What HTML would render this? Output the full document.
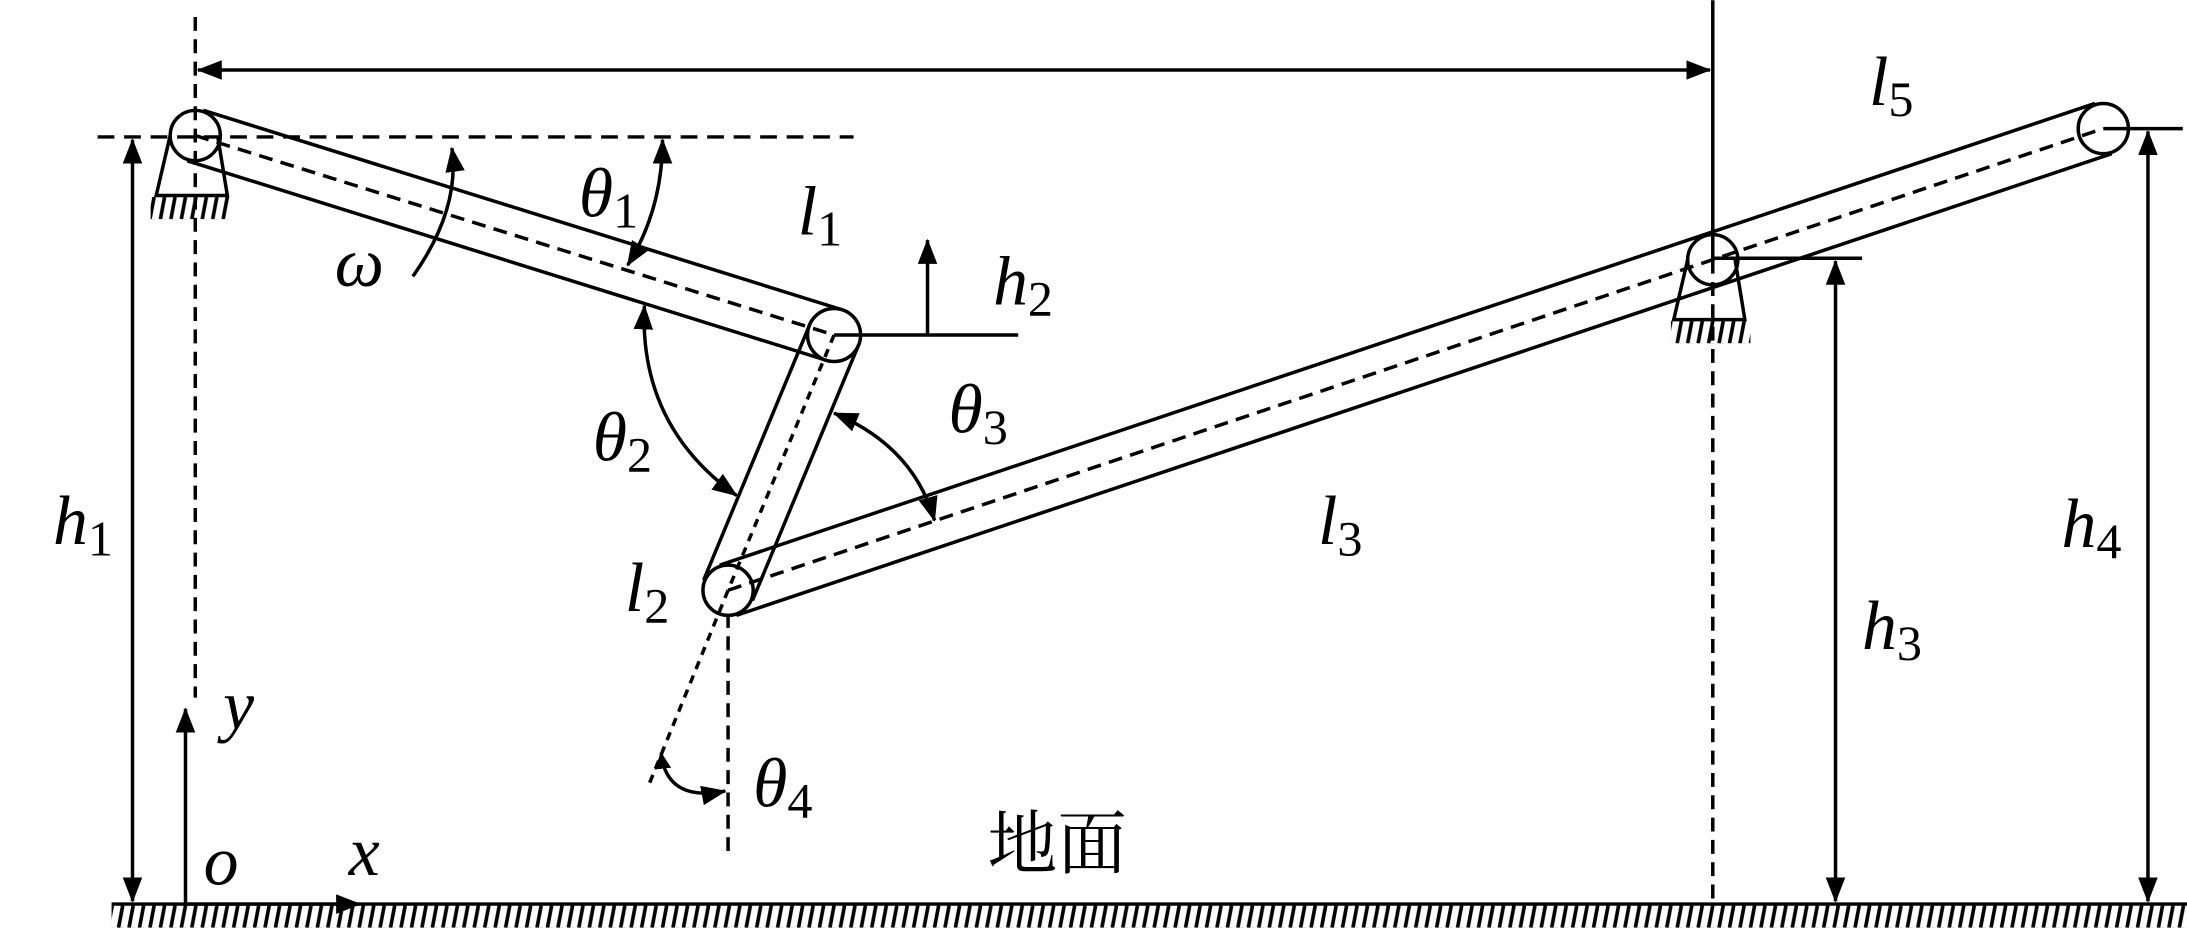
<!DOCTYPE html>
<html><head><meta charset="utf-8"><style>
html,body{margin:0;padding:0;background:#fff;}
svg{display:block;}
text{font-family:"Liberation Serif","Noto Serif CJK SC",serif;font-style:italic;fill:#000;}
.s{font-style:normal;}
</style></head><body>
<svg width="2187" height="935" viewBox="0 0 1568 670" xmlns="http://www.w3.org/2000/svg">
<defs>
<pattern id="h" x="0" y="649" width="7.5" height="16" patternUnits="userSpaceOnUse">
<line x1="5.5" y1="0" x2="2.5" y2="16" stroke="#000" stroke-width="2.6"/>
</pattern>
<pattern id="h1" x="0" y="141" width="7.5" height="16" patternUnits="userSpaceOnUse">
<line x1="5.5" y1="0" x2="2.5" y2="16" stroke="#000" stroke-width="2.6"/>
</pattern>
<pattern id="h2" x="0" y="230" width="7.5" height="16" patternUnits="userSpaceOnUse">
<line x1="5.5" y1="0" x2="2.5" y2="16" stroke="#000" stroke-width="2.6"/>
</pattern>
<marker id="a" markerWidth="12" markerHeight="12" refX="11" refY="6" orient="auto-start-reverse" markerUnits="userSpaceOnUse" viewBox="0 0 12 12">
<path d="M0,0 L12,6 L0,12 Z" fill="#000"/>
</marker>
<marker id="A" markerWidth="18" markerHeight="14" refX="17" refY="7" orient="auto-start-reverse" markerUnits="userSpaceOnUse" viewBox="0 0 18 14">
<path d="M0,0 L18,7 L0,14 Z" fill="#000"/>
</marker>
</defs>
<g stroke="#000" stroke-width="2.5" fill="none">
<line x1="80" y1="648" x2="1568" y2="648"/>
<rect x="80" y="649" width="1488" height="16" fill="url(#h)" stroke="none"/>
<line x1="140" y1="12" x2="140" y2="500" stroke-dasharray="10,6"/>
<line x1="70" y1="98" x2="612" y2="98" stroke-dasharray="12,7"/>
<line x1="1228" y1="186" x2="1228" y2="648" stroke-dasharray="10,6"/>
<line x1="1228" y1="0" x2="1228" y2="186"/>
<line x1="522" y1="440" x2="522" y2="612" stroke-dasharray="10,6"/>
<line x1="522" y1="423" x2="465" y2="563" stroke-dasharray="6,5"/>
<line x1="142" y1="50" x2="1226" y2="50" marker-start="url(#A)" marker-end="url(#A)"/>
<line x1="134.3" y1="115.1" x2="592.3" y2="258.1"/>
<line x1="145.7" y1="78.9" x2="603.7" y2="221.9"/>
<line x1="140" y1="97" x2="598" y2="240" stroke-dasharray="10,6"/>
<line x1="615.5" y1="247.3" x2="539.5" y2="430.3"/>
<line x1="580.5" y1="232.7" x2="504.5" y2="415.7"/>
<line x1="598" y1="240" x2="522" y2="423" stroke-dasharray="6,5"/>
<line x1="528" y1="441" x2="1514" y2="110"/>
<line x1="516" y1="405" x2="1502" y2="74"/>
<line x1="522" y1="423" x2="1508" y2="92" stroke-dasharray="10,6"/>
<circle cx="140" cy="97" r="18"/>
<circle cx="598" cy="240" r="19"/>
<circle cx="522" cy="423" r="18"/>
<circle cx="1508" cy="92" r="18"/>
<circle cx="1228" cy="186" r="18"/>
<path d="M122,97 L112,140 L163,140 L156,97"/>
<rect x="108" y="141" width="57" height="16" fill="url(#h1)" stroke="none"/>
<path d="M1210,186 L1200,229 L1251,229 L1244,186"/>
<rect x="1198" y="230" width="57" height="16" fill="url(#h2)" stroke="none"/>
<line x1="598" y1="240" x2="730" y2="240"/>
<line x1="665" y1="240" x2="665" y2="172" marker-end="url(#A)"/>
<line x1="95" y1="100" x2="95" y2="646" marker-start="url(#A)" marker-end="url(#A)"/>
<line x1="1228" y1="185" x2="1335" y2="185"/>
<line x1="1316" y1="187" x2="1316" y2="646" marker-start="url(#A)" marker-end="url(#A)"/>
<line x1="1508" y1="92" x2="1565" y2="92"/>
<line x1="1540" y1="94" x2="1540" y2="646" marker-start="url(#A)" marker-end="url(#A)"/>
<line x1="133" y1="648" x2="133" y2="508" marker-end="url(#A)"/>
<line x1="133" y1="648" x2="258" y2="648" marker-end="url(#A)"/>
<path d="M296,198 Q330,150 324,106" marker-end="url(#A)"/>
<path d="M475,100 Q475,150 450,190" marker-start="url(#A)" marker-end="url(#A)"/>
<path d="M462,219 Q458,305 528,355" marker-start="url(#A)" marker-end="url(#A)"/>
<path d="M598,296 Q655,320 670,373" marker-start="url(#A)" marker-end="url(#A)"/>
<path d="M474,540 Q478,575 520,567" marker-start="url(#a)" marker-end="url(#A)"/>
</g>
<g font-size="50">
<text x="415" y="155">θ<tspan font-size="36" dy="8" class="s">1</tspan></text>
<text x="572" y="168">l<tspan font-size="36" dy="8" class="s">1</tspan></text>
<text x="240" y="205">ω</text>
<text x="712" y="218">h<tspan font-size="36" dy="8" class="s">2</tspan></text>
<text x="425" y="330">θ<tspan font-size="36" dy="8" class="s">2</tspan></text>
<text x="680" y="310">θ<tspan font-size="36" dy="8" class="s">3</tspan></text>
<text x="945" y="390">l<tspan font-size="36" dy="8" class="s">3</tspan></text>
<text x="448" y="438">l<tspan font-size="36" dy="8" class="s">2</tspan></text>
<text x="38" y="390">h<tspan font-size="36" dy="8" class="s">1</tspan></text>
<text x="1478" y="392">h<tspan font-size="36" dy="8" class="s">4</tspan></text>
<text x="1335" y="465">h<tspan font-size="36" dy="8" class="s">3</tspan></text>
<text x="1340" y="75">l<tspan font-size="36" dy="8" class="s">5</tspan></text>
<text x="160" y="522">y</text>
<text x="146" y="634">o</text>
<text x="250" y="627">x</text>
<text x="540" y="578">θ<tspan font-size="36" dy="8" class="s">4</tspan></text>
<text x="708" y="622" class="s" font-size="50" style="font-family:'Noto Serif CJK SC','Noto Sans CJK SC',serif">地面</text>
</g>
</svg>
</body></html>
